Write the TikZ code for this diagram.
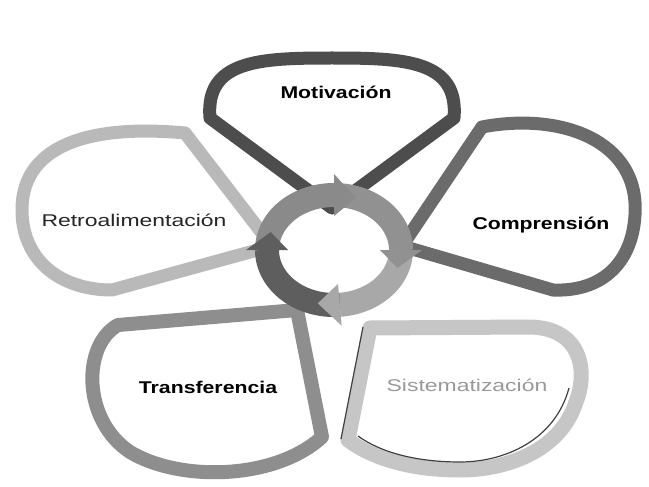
\documentclass[tikz,border=0pt]{standalone}
\usepackage{fontspec}
\setmainfont{Liberation Sans}
\newfontfamily\lblB{Liberation Sans}[FakeStretch=1.25]
\newfontfamily\lblR{Liberation Sans}[FakeStretch=1.35]
\definecolor{cMot}{HTML}{4D4D4D}
\definecolor{cCom}{HTML}{6B6B6B}
\definecolor{cSis}{HTML}{C6C6C6}
\definecolor{cTra}{HTML}{8E8E8E}
\definecolor{cRet}{HTML}{B9B9B9}
\definecolor{rA}{HTML}{8A8A8A}
\definecolor{rB}{HTML}{919191}
\definecolor{rC}{HTML}{A8A8A8}
\definecolor{rD}{HTML}{5E5E5E}
\begin{document}
\begin{tikzpicture}[x=1pt,y=-1pt,
  petal/.style={fill=white, line join=round, line width=13pt},
  ringbody/.style={line width=24pt},
  lblbold/.style={font=\lblB\bfseries\fontsize{17}{20}\selectfont, text=black},
  lblreg/.style={font=\lblR\fontsize{17}{20}\selectfont}]
\useasboundingbox (0,0) rectangle (649,487);
\fill[white] (0,0) rectangle (649,487);

% petals
\draw[petal, draw=cRet] (272,246) -- (185,133) .. controls (100,125) and (22,140) .. (22,210)
   .. controls (22,260) and (60,290) .. (112,290) -- cycle;
\draw[petal, draw=cTra, line width=14pt] (297,310) -- (118,325) .. controls (82,345) and (82,420) .. (130,452)
   .. controls (180,482) and (275,480) .. (322,437) -- cycle;
\draw[petal, draw=cSis, line width=15pt] (370,328) -- (530,327) .. controls (582,328) and (588,372) .. (576,402)
   .. controls (560,452) and (505,470) .. (460,470) .. controls (410,470) and (372,458) .. (348,440) -- cycle;
\draw[line width=1.2pt, draw=black!75] (341,439) -- (363,327);
\draw[line width=1.2pt, draw=black!75] (569,388) .. controls (555,440) and (505,462) .. (460,462)
   .. controls (415,462) and (380,452) .. (358,436);
\draw[petal, draw=cCom] (402,246) -- (482,127) .. controls (560,112) and (640,140) .. (635,215)
   .. controls (632,265) and (600,292) .. (553,290) -- cycle;
\draw[petal, draw=cMot] (332,208) -- (210,118) .. controls (205,60) and (260,58) .. (332,58)
   .. controls (404,58) and (459,60) .. (454,118) -- cycle;

% ring of circular arrows
\coordinate (C) at (334,250);
\foreach \s/\e/\c in {180/270/rA, 270/360/rB, 0/85/rC, 85/180/rD}{
  \draw[ringbody, draw=\c] plot[domain=\s:\e, samples=40] ({334+67*cos(\x)},{250+55*sin(\x)});
}
\foreach \p/\c in {270/rA, 360/rB, 85/rC, 180/rD}{
  \fill[\c] ({334+88*cos(\p)},{250+76*sin(\p)}) -- ({334+46*cos(\p)},{250+34*sin(\p)})
     -- ({334+67*cos(\p+19)},{250+55*sin(\p+19)}) -- cycle;
}

% labels
\node[lblbold] (mot) at (336,92) {Motivación};
\node[lblbold] (com) at (541,225) {Comprensión};
\node[lblbold] (tra) at (208,387) {Transferencia};
\node[lblreg, text=black!85] (ret) at (134,220) {Retroalimentación};
\node[lblreg, text=black!40] (sis) at (467,385) {Sistematización};
\end{tikzpicture}
\end{document}
